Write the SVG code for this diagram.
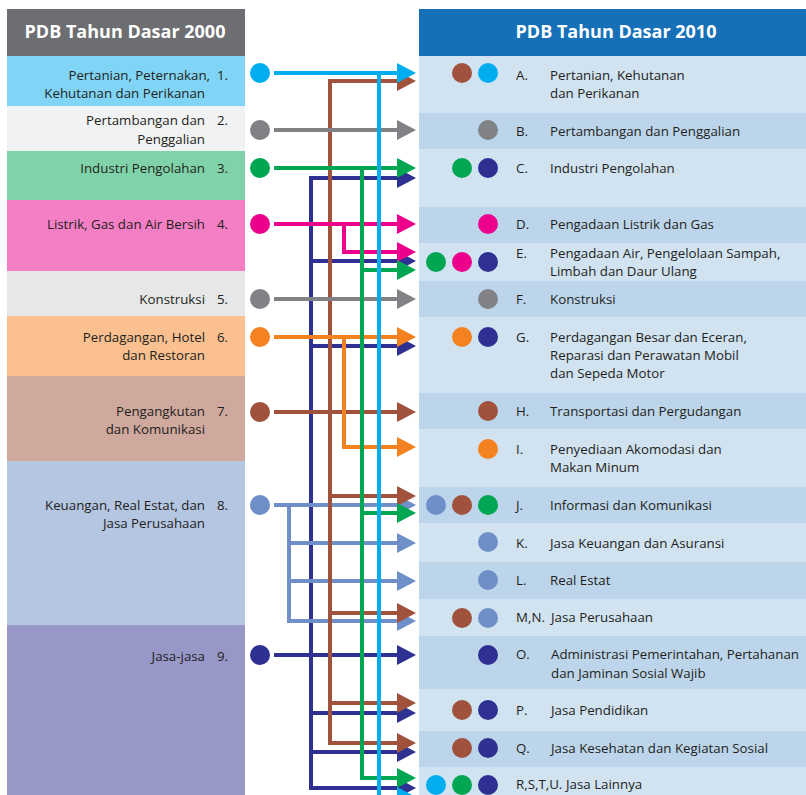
<svg xmlns="http://www.w3.org/2000/svg" width="806" height="795" viewBox="0 0 806 795">
<style>
text{font-family:"Open Sans","Liberation Sans",sans-serif;font-size:13.3px;fill:#231f20}
.hd{font-size:18px;font-weight:bold;fill:#fff;text-anchor:middle}
.l{text-anchor:end}
.ln{fill:none;stroke-width:4}
.cy{stroke:#00aeef}.gy{stroke:#808285}.gr{stroke:#00a651}.nv{stroke:#2e3192}.mg{stroke:#ec008c}.or{stroke:#f58220}.br{stroke:#a0523d}.bg{stroke:#6f8fc9}
.fcy{fill:#00aeef}.fgy{fill:#808285}.fgr{fill:#00a651}.fnv{fill:#2e3192}.fmg{fill:#ec008c}.for{fill:#f58220}.fbr{fill:#a0523d}.fbg{fill:#6f8fc9}
.lt{fill:#d1e2f1}.dk{fill:#bcd5eb}
</style>
<defs>
<marker id="acy" viewBox="0 0 19 20" refX="0" refY="10" markerWidth="19" markerHeight="20" markerUnits="userSpaceOnUse" orient="auto"><path d="M0,0L19,10L0,20z" fill="#00aeef"/></marker>
<marker id="agy" viewBox="0 0 19 20" refX="0" refY="10" markerWidth="19" markerHeight="20" markerUnits="userSpaceOnUse" orient="auto"><path d="M0,0L19,10L0,20z" fill="#808285"/></marker>
<marker id="agr" viewBox="0 0 19 20" refX="0" refY="10" markerWidth="19" markerHeight="20" markerUnits="userSpaceOnUse" orient="auto"><path d="M0,0L19,10L0,20z" fill="#00a651"/></marker>
<marker id="anv" viewBox="0 0 19 20" refX="0" refY="10" markerWidth="19" markerHeight="20" markerUnits="userSpaceOnUse" orient="auto"><path d="M0,0L19,10L0,20z" fill="#2e3192"/></marker>
<marker id="amg" viewBox="0 0 19 20" refX="0" refY="10" markerWidth="19" markerHeight="20" markerUnits="userSpaceOnUse" orient="auto"><path d="M0,0L19,10L0,20z" fill="#ec008c"/></marker>
<marker id="aor" viewBox="0 0 19 20" refX="0" refY="10" markerWidth="19" markerHeight="20" markerUnits="userSpaceOnUse" orient="auto"><path d="M0,0L19,10L0,20z" fill="#f58220"/></marker>
<marker id="abr" viewBox="0 0 19 20" refX="0" refY="10" markerWidth="19" markerHeight="20" markerUnits="userSpaceOnUse" orient="auto"><path d="M0,0L19,10L0,20z" fill="#a0523d"/></marker>
<marker id="abg" viewBox="0 0 19 20" refX="0" refY="10" markerWidth="19" markerHeight="20" markerUnits="userSpaceOnUse" orient="auto"><path d="M0,0L19,10L0,20z" fill="#6f8fc9"/></marker>
</defs>
<rect width="806" height="795" fill="#fff"/>

<!-- Left column -->
<g id="left-header"><rect x="7" y="9" width="238" height="47" fill="#6d6e71"/><text class="hd" x="125" y="38">PDB Tahun Dasar 2000</text></g>
<g id="L1"><rect x="7" y="56" width="238" height="50" fill="#80d4f6"/><text class="l" x="210" y="80">Pertanian, Peternakan,</text><text class="l" x="205" y="98">Kehutanan dan Perikanan</text><text x="217" y="80">1.</text><circle cx="260" cy="73" r="10" class="fcy"/></g>
<g id="L2"><rect x="7" y="106" width="238" height="45" fill="#f1f2f3"/><text class="l" x="205" y="125">Pertambangan dan</text><text class="l" x="205" y="144">Penggalian</text><text x="217" y="125">2.</text><circle cx="260" cy="130" r="10" class="fgy"/></g>
<g id="L3"><rect x="7" y="151" width="238" height="49" fill="#80d3a8"/><text class="l" x="205" y="173">Industri Pengolahan</text><text x="217" y="173">3.</text><circle cx="260" cy="168" r="10" class="fgr"/></g>
<g id="L4"><rect x="7" y="200" width="238" height="71" fill="#f47fc5"/><text class="l" x="205" y="229">Listrik, Gas dan Air Bersih</text><text x="217" y="229">4.</text><circle cx="260" cy="224" r="10" class="fmg"/></g>
<g id="L5"><rect x="7" y="271" width="238" height="45" fill="#e6e7e8"/><text class="l" x="205" y="304">Konstruksi</text><text x="217" y="304">5.</text><circle cx="260" cy="299" r="10" class="fgy"/></g>
<g id="L6"><rect x="7" y="316" width="238" height="60" fill="#fac08f"/><text class="l" x="205" y="342">Perdagangan, Hotel</text><text class="l" x="205" y="360">dan Restoran</text><text x="217" y="342">6.</text><circle cx="260" cy="337" r="10" class="for"/></g>
<g id="L7"><rect x="7" y="376" width="238" height="85" fill="#cfa89e"/><text class="l" x="205" y="416">Pengangkutan</text><text class="l" x="205" y="434">dan Komunikasi</text><text x="217" y="416">7.</text><circle cx="260" cy="412" r="10" class="fbr"/></g>
<g id="L8"><rect x="7" y="461" width="238" height="164" fill="#b5c6e3"/><text class="l" x="205" y="510">Keuangan, Real Estat, dan</text><text class="l" x="205" y="528">Jasa Perusahaan</text><text x="217" y="510">8.</text><circle cx="260" cy="505" r="10" class="fbg"/></g>
<g id="L9"><rect x="7" y="625" width="238" height="170" fill="#9797c8"/><text class="l" x="205" y="661">Jasa-jasa</text><text x="217" y="661">9.</text><circle cx="260" cy="655" r="10" class="fnv"/></g>

<!-- Right column -->
<g id="right-header"><rect x="419" y="9" width="387" height="47" fill="#1570b8"/><text class="hd" x="616" y="38">PDB Tahun Dasar 2010</text></g>
<g id="RA"><rect class="lt" x="419" y="56" width="387" height="57"/><circle cx="462" cy="73" r="10" class="fbr"/><circle cx="488" cy="73" r="10" class="fcy"/><text x="516" y="80">A.</text><text x="550" y="80">Pertanian, Kehutanan</text><text x="550" y="98">dan Perikanan</text></g>
<g id="RB"><rect class="dk" x="419" y="113" width="387" height="36"/><circle cx="488" cy="130" r="10" class="fgy"/><text x="516" y="136">B.</text><text x="550" y="136">Pertambangan dan Penggalian</text></g>
<g id="RC"><rect class="lt" x="419" y="149" width="387" height="58"/><circle cx="462" cy="168" r="10" class="fgr"/><circle cx="488" cy="168" r="10" class="fnv"/><text x="516" y="173">C.</text><text x="550" y="173">Industri Pengolahan</text></g>
<g id="RD"><rect class="dk" x="419" y="207" width="387" height="36"/><circle cx="488" cy="224" r="10" class="fmg"/><text x="516" y="229">D.</text><text x="550" y="229">Pengadaan Listrik dan Gas</text></g>
<g id="RE"><rect class="lt" x="419" y="243" width="387" height="38"/><circle cx="436" cy="262" r="10" class="fgr"/><circle cx="462" cy="262" r="10" class="fmg"/><circle cx="488" cy="262" r="10" class="fnv"/><text x="516" y="258">E.</text><text x="550" y="258">Pengadaan Air, Pengelolaan Sampah,</text><text x="550" y="276">Limbah dan Daur Ulang</text></g>
<g id="RF"><rect class="dk" x="419" y="281" width="387" height="36"/><circle cx="488" cy="299" r="10" class="fgy"/><text x="516" y="304">F.</text><text x="550" y="304">Konstruksi</text></g>
<g id="RG"><rect class="lt" x="419" y="317" width="387" height="76"/><circle cx="462" cy="337" r="10" class="for"/><circle cx="488" cy="337" r="10" class="fnv"/><text x="516" y="342">G.</text><text x="550" y="342">Perdagangan Besar dan Eceran,</text><text x="550" y="360">Reparasi dan Perawatan Mobil</text><text x="550" y="378">dan Sepeda Motor</text></g>
<g id="RH"><rect class="dk" x="419" y="393" width="387" height="36"/><circle cx="488" cy="411" r="10" class="fbr"/><text x="516" y="416">H.</text><text x="550" y="416">Transportasi dan Pergudangan</text></g>
<g id="RI"><rect class="lt" x="419" y="429" width="387" height="58"/><circle cx="488" cy="449" r="10" class="for"/><text x="516" y="454">I.</text><text x="550" y="454">Penyediaan Akomodasi dan</text><text x="550" y="472">Makan Minum</text></g>
<g id="RJ"><rect class="dk" x="419" y="487" width="387" height="36"/><circle cx="436" cy="505" r="10" class="fbg"/><circle cx="462" cy="505" r="10" class="fbr"/><circle cx="488" cy="505" r="10" class="fgr"/><text x="516" y="510">J.</text><text x="550" y="510">Informasi dan Komunikasi</text></g>
<g id="RK"><rect class="lt" x="419" y="523" width="387" height="39"/><circle cx="488" cy="542" r="10" class="fbg"/><text x="516" y="548">K.</text><text x="550" y="548">Jasa Keuangan dan Asuransi</text></g>
<g id="RL"><rect class="dk" x="419" y="562" width="387" height="37"/><circle cx="488" cy="580" r="10" class="fbg"/><text x="516" y="585">L.</text><text x="550" y="585">Real Estat</text></g>
<g id="RMN"><rect class="lt" x="419" y="599" width="387" height="37"/><circle cx="462" cy="618" r="10" class="fbr"/><circle cx="488" cy="618" r="10" class="fbg"/><text x="516" y="622">M,N.</text><text x="551" y="622">Jasa Perusahaan</text></g>
<g id="RO"><rect class="dk" x="419" y="636" width="387" height="53"/><circle cx="488" cy="655" r="10" class="fnv"/><text x="516" y="659">O.</text><text x="551" y="659">Administrasi Pemerintahan, Pertahanan</text><text x="551" y="678">dan Jaminan Sosial Wajib</text></g>
<g id="RP"><rect class="lt" x="419" y="689" width="387" height="42"/><circle cx="462" cy="710" r="10" class="fbr"/><circle cx="488" cy="710" r="10" class="fnv"/><text x="516" y="715">P.</text><text x="551" y="715">Jasa Pendidikan</text></g>
<g id="RQ"><rect class="dk" x="419" y="731" width="387" height="36"/><circle cx="462" cy="748" r="10" class="fbr"/><circle cx="488" cy="748" r="10" class="fnv"/><text x="516" y="753">Q.</text><text x="551" y="753">Jasa Kesehatan dan Kegiatan Sosial</text></g>
<g id="RRSTU"><rect class="lt" x="419" y="767" width="387" height="28"/><circle cx="436" cy="785" r="10" class="fcy"/><circle cx="462" cy="785" r="10" class="fgr"/><circle cx="488" cy="785" r="10" class="fnv"/><text x="516" y="789">R,S,T,U.</text><text x="566" y="789">Jasa Lainnya</text></g>

<!-- Connectors -->
<g id="connectors">
<path class="ln nv" d="M311,176V790"/>
<path class="ln nv" d="M311,178H397" marker-end="url(#anv)"/>
<path class="ln nv" d="M311,261H397" marker-end="url(#anv)"/>
<path class="ln nv" d="M311,346H397" marker-end="url(#anv)"/>
<path class="ln nv" d="M311,713H397" marker-end="url(#anv)"/>
<path class="ln nv" d="M311,752H397" marker-end="url(#anv)"/>
<path class="ln nv" d="M311,788H397" marker-end="url(#anv)"/>
<path class="ln nv" d="M274,655H397" marker-end="url(#anv)"/>

<path class="ln bg" d="M289,505V622"/>
<path class="ln bg" d="M274,505H397" marker-end="url(#abg)"/>
<path class="ln bg" d="M289,543H397" marker-end="url(#abg)"/>
<path class="ln bg" d="M289,581H397" marker-end="url(#abg)"/>
<path class="ln bg" d="M287,621H397" marker-end="url(#abg)"/>

<path class="ln br" d="M330,79V745"/>
<path class="ln br" d="M328,81H397" marker-end="url(#abr)"/>
<path class="ln br" d="M274,412H397" marker-end="url(#abr)"/>
<path class="ln br" d="M330,496H397" marker-end="url(#abr)"/>
<path class="ln br" d="M330,613H397" marker-end="url(#abr)"/>
<path class="ln br" d="M330,703H397" marker-end="url(#abr)"/>
<path class="ln br" d="M328,743H397" marker-end="url(#abr)"/>

<path class="ln mg" d="M274,224H397" marker-end="url(#amg)"/>
<path class="ln mg" d="M344,224V252H397" marker-end="url(#amg)"/>

<path class="ln or" d="M274,337H397" marker-end="url(#aor)"/>
<path class="ln or" d="M344,337V447H397" marker-end="url(#aor)"/>

<path class="ln gy" d="M274,130H397" marker-end="url(#agy)"/>
<path class="ln gy" d="M274,299H397" marker-end="url(#agy)"/>

<path class="ln gr" d="M362,168V780"/>
<path class="ln gr" d="M274,168H397" marker-end="url(#agr)"/>
<path class="ln gr" d="M362,270H397" marker-end="url(#agr)"/>
<path class="ln gr" d="M362,513H397" marker-end="url(#agr)"/>
<path class="ln gr" d="M360,778H397" marker-end="url(#agr)"/>

<path class="ln cy" d="M379,73V795"/>
<path class="ln cy" d="M274,73H397" marker-end="url(#acy)"/>
<path class="ln cy" d="M379,797H397" marker-end="url(#acy)"/>
</g>
</svg>
